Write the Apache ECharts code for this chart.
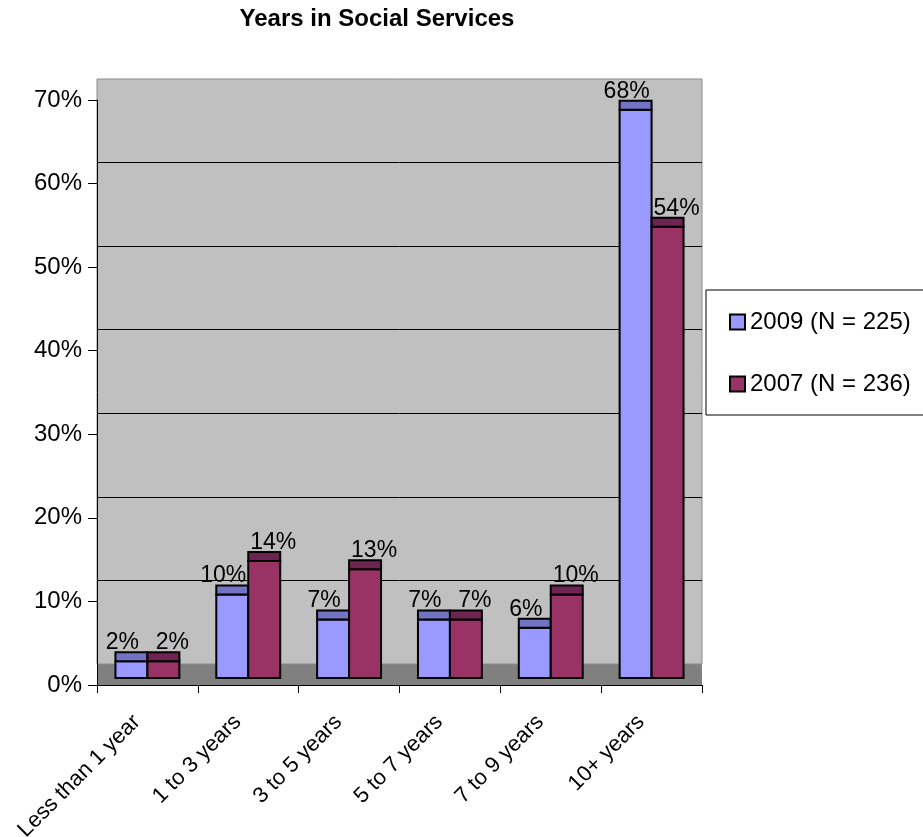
<!DOCTYPE html>
<html>
<head>
<meta charset="utf-8">
<script src="https://cdn.jsdelivr.net/npm/echarts@6/dist/echarts.min.js"></script>
<style>
  html, body { margin: 0; padding: 0; background: #ffffff; }
  #chart { width: 923px; height: 837px; }
</style>
</head>
<body>
<div id="chart"></div>
<script>
// Share of respondents by years worked in social services
const categories = ['Less than 1 year', '1 to 3 years', '3 to 5 years', '5 to 7 years', '7 to 9 years', '10+ years'];
const values2009 = [2, 10, 7, 7, 6, 68];
const values2007 = [2, 14, 13, 7, 10, 54];
const seriesNames = ['2009 (N = 225)', '2007 (N = 236)'];
const yMax = 70;
const yStep = 10;

const FONT = '"Liberation Sans", Arial, Helvetica, sans-serif';
const FRONT_COLORS = ['#9999FF', '#993366'];
const CAP_COLORS = ['#7373C4', '#6E2450'];

// Bars stand part-way into the floor, with a shaded top face above the front face
const DROP = 7;
const CAP = 9;
const BAR_FRAC = 0.317;

function makeRender(side, front, cap, labelShift) {
  return function (params, api) {
    const cat = api.value(0);
    const v = api.value(1);
    const base = api.coord([cat, 0]);
    const top = api.coord([cat, v]);
    const band = api.size([1, 0])[0];
    const w = band * BAR_FRAC;
    const x0 = side < 0 ? base[0] - w : base[0];
    const yb = base[1] - DROP;
    const yt = top[1] - DROP;
    return {
      type: 'group',
      children: [
        {
          type: 'rect',
          shape: { x: x0, y: yt, width: w, height: yb - yt },
          style: { fill: front, stroke: '#000', lineWidth: 2 }
        },
        {
          type: 'rect',
          shape: { x: x0, y: yt - CAP, width: w, height: CAP },
          style: { fill: cap, stroke: '#000', lineWidth: 2 }
        },
        {
          type: 'text',
          x: x0 + w / 2 + labelShift,
          y: yt - CAP + 2,
          style: {
            text: v + '%',
            font: '23px ' + FONT,
            fill: '#000',
            align: 'center',
            verticalAlign: 'bottom'
          }
        }
      ]
    };
  };
}

const chart = echarts.init(document.getElementById('chart'), null, { renderer: 'canvas' });

chart.setOption({
  animation: false,
  backgroundColor: '#ffffff',
  textStyle: { fontFamily: FONT },
  title: {
    text: 'Years in Social Services',
    left: 377,
    textAlign: 'center',
    top: 7,
    padding: 0,
    textStyle: { fontFamily: FONT, fontSize: 24, fontWeight: 'bold', color: '#000' }
  },
  legend: {
    orient: 'vertical',
    left: 706,
    top: 290,
    padding: [17, 20, 16, 23],
    itemGap: 32,
    itemWidth: 15,
    itemHeight: 15,
    borderColor: '#000',
    borderWidth: 1,
    backgroundColor: '#fff',
    textStyle: { fontFamily: FONT, fontSize: 24, lineHeight: 30, color: '#000' },
    data: [
      { name: seriesNames[0], icon: 'rect', itemStyle: { color: FRONT_COLORS[0], borderColor: '#000', borderWidth: 2 } },
      { name: seriesNames[1], icon: 'rect', itemStyle: { color: FRONT_COLORS[1], borderColor: '#000', borderWidth: 2 } }
    ]
  },
  grid: [
    // front plane: axes and floor
    { left: 97, right: 221, top: 100, bottom: 152, outerBoundsMode: 'none', containLabel: false,
      show: true, backgroundColor: '#808080', borderWidth: 0, z: 0 },
    // back wall
    { left: 97, right: 221, top: 79, bottom: 173, outerBoundsMode: 'none', containLabel: false,
      show: true, backgroundColor: '#C0C0C0', borderColor: '#8c8c8c', borderWidth: 1, z: 1 }
  ],
  xAxis: [
    {
      type: 'category',
      gridIndex: 0,
      data: categories,
      z: 3,
      axisLine: { show: true, lineStyle: { color: '#000', width: 1 } },
      axisTick: { show: true, length: 8, interval: 0, lineStyle: { color: '#000', width: 1 } },
      axisLabel: { interval: 0, rotate: 45, margin: 23, padding: [0, 15, 0, 0], fontSize: 22, color: '#000', fontFamily: FONT },
      splitLine: { show: false }
    },
    {
      type: 'category',
      gridIndex: 1,
      data: categories,
      show: false
    }
  ],
  yAxis: [
    {
      type: 'value',
      gridIndex: 0,
      min: 0,
      max: yMax,
      interval: yStep,
      z: 3,
      axisLine: { show: true, lineStyle: { color: '#000', width: 1 } },
      axisTick: { show: true, length: 9, lineStyle: { color: '#000', width: 1 } },
      axisLabel: { formatter: '{value}%', fontSize: 24, color: '#000', margin: 15, fontFamily: FONT },
      splitLine: { show: false }
    },
    {
      type: 'value',
      gridIndex: 1,
      min: 0,
      max: yMax,
      interval: yStep,
      z: 2,
      axisLine: { show: false },
      axisTick: { show: false },
      axisLabel: { show: false },
      splitLine: { show: true, showMinLine: false, showMaxLine: false, lineStyle: { color: '#000', width: 1 } }
    }
  ],
  series: [
    {
      name: seriesNames[0],
      type: 'custom',
      xAxisIndex: 0,
      yAxisIndex: 0,
      z: 4,
      itemStyle: { color: FRONT_COLORS[0] },
      renderItem: makeRender(-1, FRONT_COLORS[0], CAP_COLORS[0], -9),
      data: values2009.map((v, i) => [i, v])
    },
    {
      name: seriesNames[1],
      type: 'custom',
      xAxisIndex: 0,
      yAxisIndex: 0,
      z: 4,
      itemStyle: { color: FRONT_COLORS[1] },
      renderItem: makeRender(1, FRONT_COLORS[1], CAP_COLORS[1], 9),
      data: values2007.map((v, i) => [i, v])
    }
  ]
});
</script>
</body>
</html>
